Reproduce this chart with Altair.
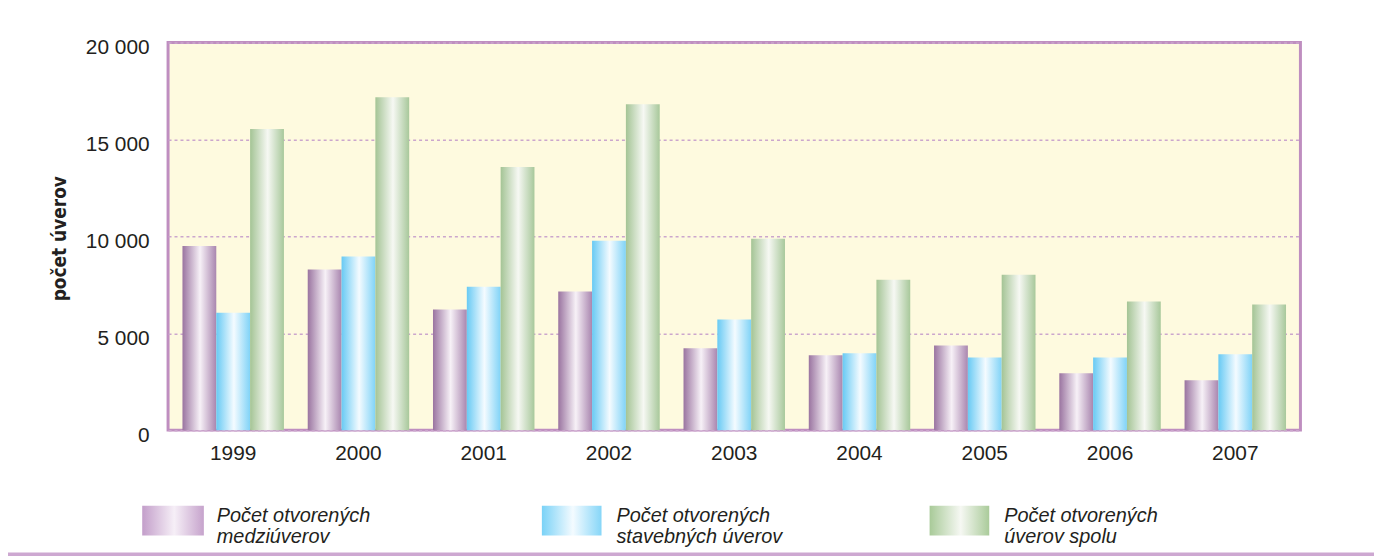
import altair as alt
import pandas as pd

# ---- data ----
years = ["1999", "2000", "2001", "2002", "2003", "2004", "2005", "2006", "2007"]
medziuvery = [9500, 8280, 6220, 7150, 4220, 3860, 4370, 2930, 2570]
stavebne = [6060, 8950, 7400, 9770, 5710, 3960, 3750, 3750, 3910]
spolu = [15530, 17170, 13570, 16810, 9870, 7760, 8020, 6630, 6480]
series_keys = ["medzi", "stav", "spolu"]
legend_labels = [
    "Počet otvorených\nmedziúverov",
    "Počet otvorených\nstavebných úverov",
    "Počet otvorených\núverov spolu",
]
y_ticks = [0, 5000, 10000, 15000, 20000]
y_title = "počet úverov"

rows = []
for key, vals in zip(series_keys, [medziuvery, stavebne, spolu]):
    for yr, v in zip(years, vals):
        rows.append({"year": yr, "series": key, "value": v})
df = pd.DataFrame(rows)

FONT = "Liberation Sans, Arial, sans-serif"
TITLE_FONT = "DejaVu Sans Condensed, sans-serif"
TXT = "#231F20"


def grad(left, right, mid="#FFFFFF", pos=0.52):
    return alt.Gradient(
        gradient="linear", x1=0, x2=1, y1=0, y2=0,
        stops=[
            alt.GradientStop(offset=0, color=left),
            alt.GradientStop(offset=pos, color=mid),
            alt.GradientStop(offset=1, color=right),
        ],
    )


bar_grads = [
    grad("#9A74A0", "#A986AF", "#F7F1F7"),
    grad("#68CAF4", "#80D3F7", "#F4FBFF"),
    grad("#A4C495", "#A8C89B", "#F6F8F3"),
]
legend_grads = [
    grad("#C39ECA", "#C6A3CC", "#F6EFF7"),
    grad("#7AD2F7", "#86D6F8", "#F4FBFF"),
    grad("#A8CA98", "#AACB9A", "#F6F8F3"),
]

base = alt.Chart(df).encode(
    x=alt.X(
        "year:N",
        sort=years,
        scale=alt.Scale(paddingInner=0.19, paddingOuter=0.115),
        axis=alt.Axis(
            title=None, labelAngle=0, labelFontSize=21, labelFont=FONT,
            labelColor=TXT, labelPadding=13, domain=False, ticks=False,
        ),
    ),
    xOffset=alt.XOffset(
        "series:N", scale=alt.Scale(domain=series_keys, paddingInner=0, paddingOuter=0)
    ),
    y=alt.Y(
        "value:Q",
        scale=alt.Scale(domain=[0, 20000], nice=False),
        axis=alt.Axis(
            values=y_ticks,
            labelExpr="datum.value >= 1000 ? floor(datum.value / 1000) + ' 000' : '' + datum.value",
            labelFontSize=21, labelFont=FONT, labelColor=TXT, labelPadding=19,
            labelOffset=5, domain=False, ticks=False,
            grid=True, gridColor="#CBA6CD", gridDash=[3, 3], gridWidth=1.5,
            title=y_title, titleFont=TITLE_FONT, titleFontSize=19, titleFontWeight="bold",
            titleColor=TXT, titleAngle=270, titleX=-109, titleY=197,
            titleAlign="center", titleBaseline="middle",
        ),
    ),
)

layers = []
for key, g in zip(series_keys, bar_grads):
    layers.append(base.transform_filter(alt.datum.series == key).mark_bar(fill=g))

# legend (custom, gradient swatches)
sw_x = [-26, 376, 766]
sw_w = [62, 60, 60]
tx_x = [49, 451, 841]
for i in range(3):
    one = pd.DataFrame({"label": [legend_labels[i]]})
    layers.append(
        alt.Chart(one).mark_rect(fill=legend_grads[i]).encode(
            x=alt.value(sw_x[i]), x2=alt.value(sw_x[i] + sw_w[i]),
            y=alt.value(466), y2=alt.value(496),
        )
    )
    layers.append(
        alt.Chart(one).mark_text(
            align="left", baseline="alphabetic", lineBreak="\n", lineHeight=22,
            fontSize=20, fontStyle="italic", font=FONT, color=TXT,
        ).encode(x=alt.value(tx_x[i]), y=alt.value(482), text="label:N")
    )

# bottom frame band
band = pd.DataFrame({"k": [1]})
layers.append(
    alt.Chart(band).mark_rect(fill="#CDA8D1").encode(
        x=alt.value(-161), x2=alt.value(1213), y=alt.value(513), y2=alt.value(517)
    )
)

chart = (
    alt.layer(*layers)
    .properties(
        width=1139, height=390,
        autosize=alt.AutoSizeParams(type="none"),
        padding={"left": 161, "top": 33, "right": 74, "bottom": 125},
    )
    .configure_view(fill="#FEFADF", stroke="#BF8EC0", strokeWidth=3)
)

chart.save("out.html", embed_options={"renderer": "svg", "actions": False})
